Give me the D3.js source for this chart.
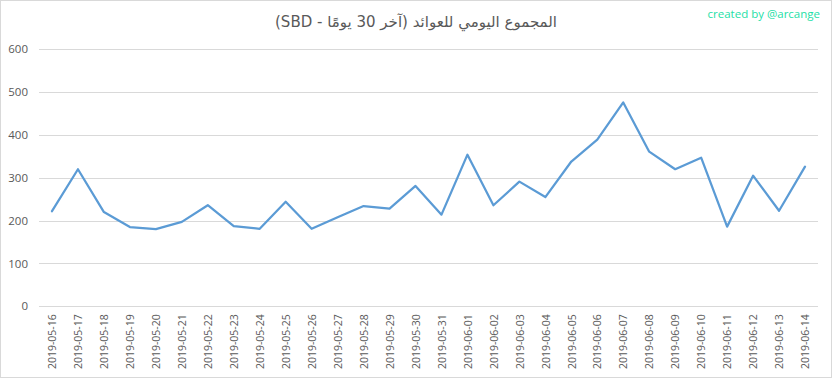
<!DOCTYPE html>
<html><head><meta charset="utf-8">
<script src="https://cdn.jsdelivr.net/npm/d3@7"></script>
<style>body{margin:0;background:#fff}svg{display:block}</style>
</head><body>
<script>
const categories = ["2019-05-16","2019-05-17","2019-05-18","2019-05-19","2019-05-20","2019-05-21","2019-05-22","2019-05-23","2019-05-24","2019-05-25","2019-05-26","2019-05-27","2019-05-28","2019-05-29","2019-05-30","2019-05-31","2019-06-01","2019-06-02","2019-06-03","2019-06-04","2019-06-05","2019-06-06","2019-06-07","2019-06-08","2019-06-09","2019-06-10","2019-06-11","2019-06-12","2019-06-13","2019-06-14"];
const values = [222,320,220,185,180,197,236,187,181,244,181,208,234,228,281,214,354,236,291,255,338,389,476,361,320,347,186,305,223,326];
const yTicks = [0,100,200,300,400,500,600];
const title = "المجموع اليومي للعوائد (آخر 30 يومًا - SBD)";
const credit = "created by @arcange";

const W = 833, H = 379;
const svg = d3.select("body").append("svg").attr("width", W).attr("height", H);
svg.append("rect").attr("x",0.5).attr("y",0.5).attr("width",831).attr("height",377)
  .attr("fill","#fff").attr("stroke","#d9d9d9");

const pLeft = 39, pRight = 818, pTop = 49.3, pBottom = 306.3;
const x = d3.scalePoint().domain(categories).range([pLeft, pRight]).padding(0.5);
const y = d3.scaleLinear().domain([0, 600]).range([pBottom, pTop]);

const grid = svg.append("g");
grid.selectAll("line").data(yTicks).join("line")
  .attr("x1", pLeft).attr("x2", pRight)
  .attr("y1", d => Math.round(y(d)) + 0.5).attr("y2", d => Math.round(y(d)) + 0.5)
  .attr("stroke", "#d9d9d9").attr("stroke-width", 1);

const yAxis = d3.axisLeft(y).tickValues(yTicks).tickSize(0).tickPadding(0);
const gy = svg.append("g").attr("transform", `translate(${pLeft-11},0)`).call(yAxis);
gy.select(".domain").remove();
gy.selectAll("text").attr("fill","#595959").style("font-family","'Open Sans', sans-serif").style("font-size","11.5px");

const xAxis = d3.axisBottom(x).tickSize(0).tickPadding(0);
const gx = svg.append("g").attr("transform", `translate(0,${pBottom})`).call(xAxis);
gx.select(".domain").remove();
gx.selectAll("text")
  .attr("fill","#595959")
  .style("font-family","'Open Sans', sans-serif").style("font-size","10.5px")
  .attr("text-anchor","end").attr("dy","0.35em")
  .attr("transform","translate(0,8) rotate(-90)")
  .attr("x",0).attr("y",0);

const line = d3.line().x((d,i) => x(categories[i])).y(d => y(d));
svg.append("path").datum(values).attr("d", line)
  .attr("fill","none").attr("stroke","#5b9bd5").attr("stroke-width",2.25)
  .attr("stroke-linejoin","round").attr("stroke-linecap","round");

svg.append("text").attr("x", 416).attr("y", 27).attr("text-anchor","middle")
  .attr("fill","#595959").style("font-family","'DejaVu Sans', sans-serif").style("font-size","15px")
  .attr("direction","rtl").text(title);

svg.append("text").attr("x", 820).attr("y", 18).attr("text-anchor","end")
  .attr("fill","#1de0a6").style("font-family","'Open Sans', sans-serif").style("font-size","11.5px")
  .text(credit);
</script>
</body></html>
